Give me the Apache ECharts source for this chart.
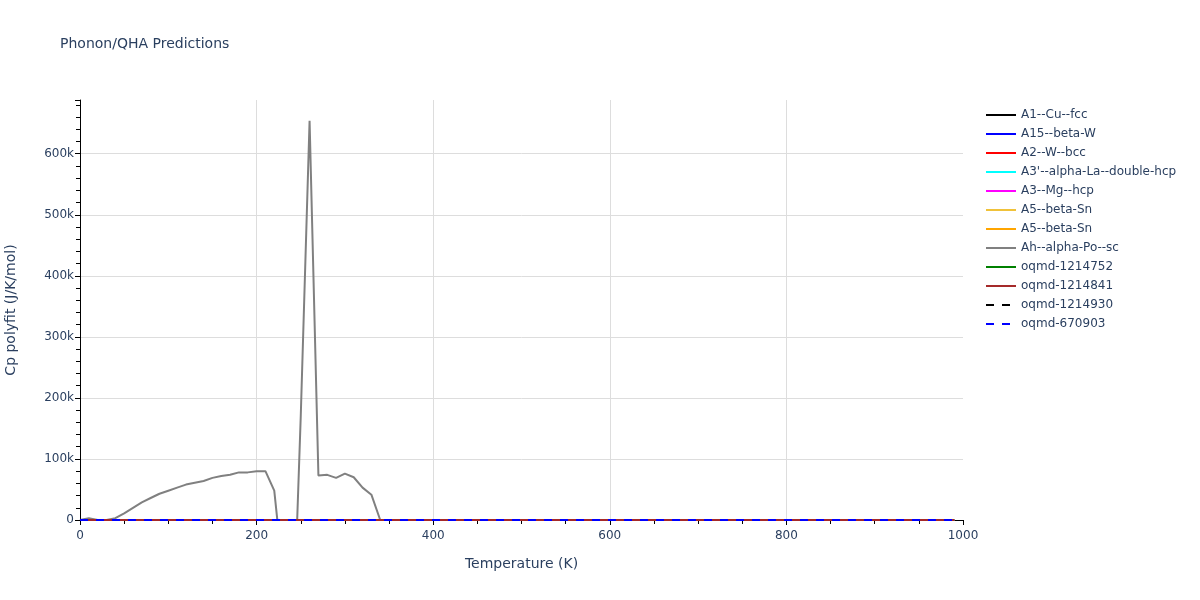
<!DOCTYPE html>
<html><head><meta charset="utf-8">
<script src="https://cdn.jsdelivr.net/npm/echarts@6/dist/echarts.min.js"></script>
<style>html,body{margin:0;padding:0;background:#fff}#c{width:1200px;height:600px}</style>
</head><body><div id="c"></div>
<script>
// Temperatures (K) and values
const seriesNames = ["A1--Cu--fcc","A15--beta-W","A2--W--bcc","A3'--alpha-La--double-hcp","A3--Mg--hcp","A5--beta-Sn","A5--beta-Sn","Ah--alpha-Po--sc","oqmd-1214752","oqmd-1214841","oqmd-1214930","oqmd-670903"];
const seriesColors = ["#000000","#0000ff","#ff0000","#00ffff","#ff00ff","#f0c23a","#ffa500","#808080","#008000","#a52a2a","#000000","#0000ff"];
const seriesDashed = [false,false,false,false,false,false,false,false,false,false,true,true];

// near-zero series (J/K/mol) sampled coarsely
const smallT = [0,10,20,50,100,200,300,500,700,990];
const cuVals   = [0,0.5,3,13,19.5,23,24.5,25.2,25.8,26.5];
const w15Vals  = [0,0.3,2,10,18,23,24.5,25,25.3,25.6];
const wbccVals = [0,0.2,1.5,9,17.5,22.5,24,24.8,25.1,25.4];
const laVals   = [0,1.5,6,17,22,24,24.6,25,25.2,25.4];
const mgVals   = [0,0.4,2.5,11,19,23,24.3,25,25.4,25.8];
const sn1Vals  = [0,1,5,15,21,23.5,24.5,25,25.3,25.6];
const sn2Vals  = [0,1.1,5.2,15.5,21.2,23.6,24.6,25.1,25.4,25.7];
const g752Vals = [0,0.6,3.2,13,20,23.2,24.4,25,25.3,25.7];
const g841Vals = [0,0.7,3.5,13.5,20.2,23.3,24.5,25.1,25.4,25.8];
const g930Vals = [0,0.8,3.8,14,20.5,23.4,24.6,25.2,25.5,25.9];
const g670Vals = [0,0.5,3,12.5,19.8,23.1,24.4,25,25.3,25.6];

// Ah--alpha-Po--sc (large, unstable fit)
const poT = [0,10,20,30,40,50,60,70,80,90,100,110,120,130,140,150,160,170,180,190,200,210,220,230,240,250,260,270,280,290,300,310,320,330,340,990];
const poVals = [0,3000,0,0,3000,11000,20000,29000,36000,43000,48000,53000,58000,61000,64000,69000,72000,74000,78000,78000,80000,80000,48000,-90000,-250000,170000,654000,73000,74000,69000,76000,70000,53000,41500,0,0];

const xTicks = {min:0, max:1000, interval:200};
const yTicks = {min:0, max:688000, interval:100000};

const smallSets = [cuVals,w15Vals,wbccVals,laVals,mgVals,sn1Vals,sn2Vals,null,g752Vals,g841Vals,g930Vals,g670Vals];
const txt = '#2a3f5f';
const font = 'DejaVu Sans, Verdana, sans-serif';

// unique internal ids so duplicate display names get separate legend entries
const ids = seriesNames.map((n,i)=> n + ' '.repeat(i===6?1:0));

const series = seriesNames.map((n,i)=>{
  const data = (i===7) ? poT.map((t,k)=>[t,poVals[k]]) : smallT.map((t,k)=>[t,smallSets[i][k]]);
  return {
    name:ids[i], type:'line', data, symbol:'none', showSymbol:false, clip:true,
    lineStyle:{color:seriesColors[i], width:2, type: seriesDashed[i]?[8,8]:'solid'},
    itemStyle:{color:seriesColors[i]}, animation:false, z: 2+i
  };
});

const chart = echarts.init(document.getElementById('c'), null, {renderer:'canvas'});
chart.setOption({
  animation:false,
  backgroundColor:'#fff',
  textStyle:{fontFamily:font},
  title:{text:'Phonon/QHA Predictions', left:60, top:37, padding:0,
    textStyle:{fontFamily:font, fontSize:14, fontWeight:'normal', color:txt}},
  grid:{left:80, right:237, top:100, bottom:80, containLabel:false, outerBoundsMode:'none'},
  legend:{orient:'vertical', left:980, top:104, itemWidth:30, itemHeight:12, itemGap:7,
    itemStyle:{opacity:0}, lineStyle:{width:2},
    formatter:n=>n.trim(),
    textStyle:{fontFamily:font, fontSize:12, color:txt}, data:ids.map(n=>({name:n}))},
  xAxis:{type:'value', min:xTicks.min, max:xTicks.max, interval:xTicks.interval,
    name:'Temperature (K)', nameLocation:'middle', nameGap:37,
    nameTextStyle:{fontFamily:font, fontSize:14, color:txt},
    axisLine:{show:true, lineStyle:{color:'#000', width:1}},
    axisTick:{show:true, inside:false, length:5, lineStyle:{color:'#000'}},
    minorTick:{show:true, splitNumber:4, length:4, lineStyle:{color:'#000'}},
    axisLabel:{fontFamily:font, fontSize:12, color:txt, margin:10, formatter:v=>String(v)},
    splitLine:{show:true, showMaxLine:false, lineStyle:{color:'#dddddd', width:1}}},
  yAxis:{type:'value', min:yTicks.min, max:yTicks.max, interval:yTicks.interval,
    name:'Cp polyfit (J/K/mol)', nameLocation:'middle', nameGap:62,
    nameTextStyle:{fontFamily:font, fontSize:14, color:txt},
    axisLine:{show:true, onZero:false, lineStyle:{color:'#000', width:1}},
    axisTick:{show:true, inside:false, length:5, lineStyle:{color:'#000'}},
    minorTick:{show:true, splitNumber:5, length:4, lineStyle:{color:'#000'}},
    axisLabel:{fontFamily:font, fontSize:12, color:txt, margin:6, showMaxLabel:false,
      formatter:v=> v===0?'0':(v/1000)+'k'},
    splitLine:{show:true, showMaxLine:false, lineStyle:{color:'#dddddd', width:1}}},
  series
});
</script></body></html>
